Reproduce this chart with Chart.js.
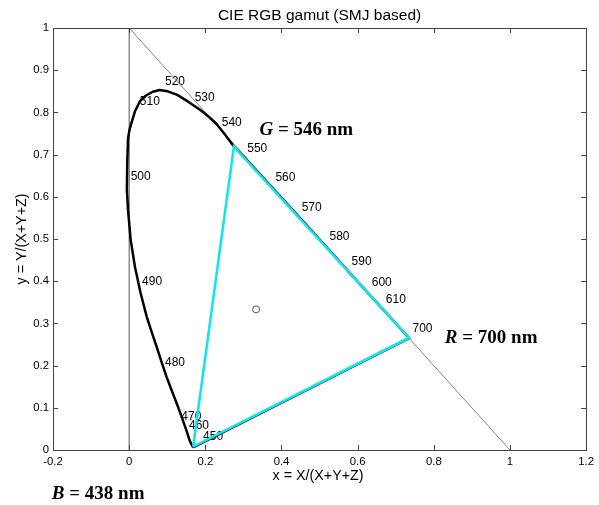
<!DOCTYPE html>
<html><head><meta charset="utf-8">
<script src="https://cdn.jsdelivr.net/npm/chart.js@4"></script>
<style>html,body{margin:0;padding:0;background:#fff}canvas{display:block}</style>
</head><body>
<canvas id="c" width="599" height="505"></canvas>
<script>
// Spectrum locus (chromaticity x, y), from blue end to red end
const locusX = [0.168, 0.160, 0.150, 0.140, 0.128, 0.113, 0.098, 0.085, 0.072, 0.059, 0.046, 0.030, 0.015, 0.004, -0.003, -0.006, -0.005, -0.003, 0.001, 0.006, 0.015, 0.028, 0.044, 0.062, 0.080, 0.101, 0.125, 0.154, 0.185, 0.206, 0.229, 0.251, 0.275, 0.302, 0.373, 0.444, 0.512, 0.575, 0.627, 0.666, 0.692, 0.708, 0.719, 0.726, 0.735];
const locusY = [0.006, 0.020, 0.047, 0.073, 0.103, 0.138, 0.174, 0.209, 0.245, 0.280, 0.316, 0.372, 0.435, 0.498, 0.569, 0.617, 0.680, 0.739, 0.759, 0.775, 0.802, 0.826, 0.840, 0.849, 0.853, 0.850, 0.842, 0.826, 0.807, 0.792, 0.773, 0.748, 0.719, 0.694, 0.624, 0.554, 0.487, 0.424, 0.372, 0.334, 0.308, 0.292, 0.281, 0.274, 0.265];

// Wavelength labels (text, left-middle anchor in chromaticity coords)
const wlText = ['450','460','470','480','490','500','510','520','530','540','550','560','570','580','590','600','610','700'];
const wlX = [0.194, 0.157, 0.137, 0.094, 0.034, 0.004, 0.028, 0.094, 0.172, 0.243, 0.310, 0.384, 0.453, 0.526, 0.584, 0.637, 0.674, 0.744];
const wlY = [0.032, 0.057, 0.079, 0.207, 0.399, 0.648, 0.825, 0.873, 0.835, 0.775, 0.714, 0.645, 0.574, 0.505, 0.446, 0.396, 0.356, 0.287];

// CIE RGB primaries
const primName = ['B', 'G', 'R'];
const primNm = [438, 546, 700];
const primX = [0.168, 0.275, 0.735];
const primY = [0.008, 0.719, 0.266];
// annotation anchors (left, baseline) in chromaticity coords
const primLabelX = [-0.203, 0.342, 0.829];
const primLabelY = [-0.115, 0.747, 0.254];

// white point
const whiteX = [0.3333];
const whiteY = [0.3333];

// reference lines
const vertLineX = [0, 0];
const vertLineY = [0, 1];
const diagX = [0, 1];
const diagY = [1, 0];

// ticks
const xTicks = [-0.2, 0, 0.2, 0.4, 0.6, 0.8, 1, 1.2];
const xTickLabels = ['-0.2', '0', '0.2', '0.4', '0.6', '0.8', '1', '1.2'];
const yTicks = [0, 0.1, 0.2, 0.3, 0.4, 0.5, 0.6, 0.7, 0.8, 0.9, 1];
const yTickLabels = ['0', '0.1', '0.2', '0.3', '0.4', '0.5', '0.6', '0.7', '0.8', '0.9', '1'];

const titleText = 'CIE RGB gamut (SMJ based)';
const xTitle = 'x = X/(X+Y+Z)';
const yTitle = 'y = Y/(X+Y+Z)';

const zip = (xs, ys) => xs.map((v, i) => ({x: v, y: ys[i]}));
const locusPts = zip(locusX, locusY);
locusPts.push({x: locusX[0], y: locusY[0]});
const triPts = zip(primX, primY);
triPts.push({x: primX[0], y: primY[0]});

const SANS = '"Liberation Sans", Arial, Helvetica, sans-serif';
const SERIF = '"Liberation Serif", "Times New Roman", Times, serif';

const deco = {
  id: 'deco',
  beforeDatasetsDraw(chart) {
    const ctx = chart.ctx, xs = chart.scales.x, ys = chart.scales.y;
    ctx.save();
    ctx.fillStyle = '#000';
    ctx.font = '12px ' + SANS;
    ctx.textAlign = 'left';
    ctx.textBaseline = 'middle';
    wlText.forEach((t, i) => {
      ctx.fillText(t, xs.getPixelForValue(wlX[i]), ys.getPixelForValue(wlY[i]));
    });
    ctx.restore();
  },
  afterDraw(chart) {
    const ctx = chart.ctx, xs = chart.scales.x, ys = chart.scales.y;
    const a = chart.chartArea;
    ctx.save();
    // frame
    ctx.strokeStyle = '#444';
    ctx.lineWidth = 1;
    ctx.strokeRect(Math.round(a.left) + 0.5, Math.round(a.top) + 0.5, Math.round(a.right - a.left), Math.round(a.bottom - a.top));
    // inside ticks
    ctx.beginPath();
    xs.ticks.forEach(t => {
      const px = Math.round(xs.getPixelForValue(t.value)) + 0.5;
      if (px <= a.left + 1 || px >= a.right - 1) return;
      ctx.moveTo(px, a.bottom); ctx.lineTo(px, a.bottom - 5);
      ctx.moveTo(px, a.top); ctx.lineTo(px, a.top + 5);
    });
    ys.ticks.forEach(t => {
      const py = Math.round(ys.getPixelForValue(t.value)) + 0.5;
      if (py <= a.top + 1 || py >= a.bottom - 1) return;
      ctx.moveTo(a.left, py); ctx.lineTo(a.left + 5, py);
      ctx.moveTo(a.right, py); ctx.lineTo(a.right - 5, py);
    });
    ctx.stroke();
    // title
    ctx.fillStyle = '#000';
    ctx.textAlign = 'center';
    ctx.textBaseline = 'alphabetic';
    ctx.font = '15.5px ' + SANS;
    ctx.fillText(titleText, (a.left + a.right) / 2, 19.5);
    // axis titles
    ctx.font = '14.3px ' + SANS;
    ctx.fillText(xTitle, (a.left + a.right) / 2 - 1.5, 480);
    ctx.save();
    ctx.translate(25.5, (a.top + a.bottom) / 2);
    ctx.rotate(-Math.PI / 2);
    ctx.fillText(yTitle, 0, 0);
    ctx.restore();
    // primary annotations
    ctx.textAlign = 'left';
    primName.forEach((n, i) => {
      let px = xs.getPixelForValue(primLabelX[i]);
      const py = ys.getPixelForValue(primLabelY[i]);
      ctx.font = 'italic bold 19px ' + SERIF;
      ctx.fillText(n, px, py);
      px += ctx.measureText(n).width;
      ctx.font = 'bold 19px ' + SERIF;
      ctx.fillText(' = ' + primNm[i] + ' nm', px, py);
    });
    ctx.restore();
  }
};

new Chart(document.getElementById('c'), {
  type: 'scatter',
  data: {
    datasets: [
      {data: zip(whiteX, whiteY), showLine: false, pointRadius: 3.5, pointBorderWidth: 1,
       pointBorderColor: '#555', pointBackgroundColor: 'rgba(0,0,0,0)', order: 0},
      {data: triPts, showLine: true, borderColor: 'rgb(20,228,240)', borderWidth: 2.6, pointRadius: 0, tension: 0, order: 1},
      {data: locusPts, showLine: true, borderColor: '#000', borderWidth: 2.5, pointRadius: 0, tension: 0,
       borderJoinStyle: 'round', order: 2},
      {data: zip(vertLineX, vertLineY), showLine: true, borderColor: '#555', borderWidth: 1, pointRadius: 0, order: 3},
      {data: zip(diagX, diagY), showLine: true, borderColor: '#666', borderWidth: 0.8, pointRadius: 0, order: 4}
    ]
  },
  options: {
    responsive: false,
    animation: false,
    events: [],
    layout: {padding: {top: 28, right: 12, left: 0, bottom: 0}},
    plugins: {legend: {display: false}, tooltip: {enabled: false}, title: {display: false}},
    scales: {
      x: {
        type: 'linear', min: -0.2, max: 1.2,
        grid: {display: false, drawTicks: false},
        border: {display: false},
        afterBuildTicks: s => { s.ticks = xTicks.map(v => ({value: v})); },
        afterFit: s => { s.height = 55; },
        ticks: {
          padding: 5, color: '#000', maxRotation: 0, autoSkip: false,
          font: {family: SANS, size: 11.3},
          callback: (v, i) => xTickLabels[i]
        }
      },
      y: {
        type: 'linear', min: 0, max: 1,
        grid: {display: false, drawTicks: false},
        border: {display: false},
        afterBuildTicks: s => { s.ticks = yTicks.map(v => ({value: v})); },
        afterFit: s => { s.width = 53; },
        ticks: {
          padding: 4, color: '#000', autoSkip: false,
          font: {family: SANS, size: 11.3},
          callback: (v, i) => yTickLabels[i]
        }
      }
    }
  },
  plugins: [deco]
});
</script>
</body></html>
